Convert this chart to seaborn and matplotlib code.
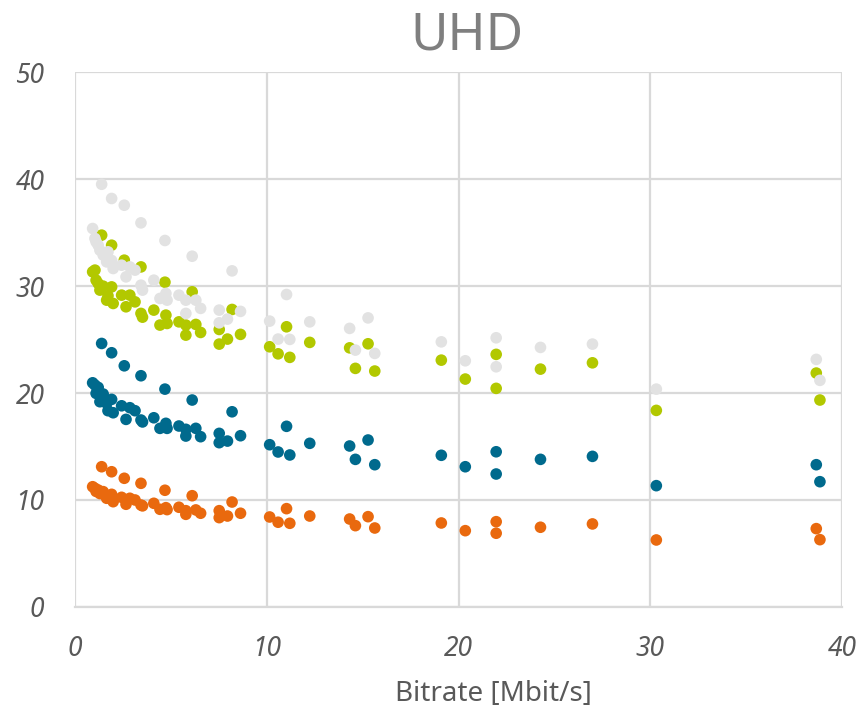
import numpy as np
import pandas as pd
import matplotlib
matplotlib.use("Agg")
import matplotlib.pyplot as plt
import seaborn as sns

# Bitrates of the encoded UHD versions (Mbit/s)
bitrate = [
    0.92, 1.04, 1.10, 1.21, 1.30, 1.47, 1.65, 1.72, 1.91, 1.99,
    2.43, 2.66, 2.86, 3.13, 3.44, 3.52, 4.11, 4.43, 4.74, 4.80,
    5.42, 5.78, 5.78, 6.30, 6.55, 7.52, 7.52, 7.95, 8.63, 10.15,
    1.39, 1.91, 2.57, 3.44, 4.69, 6.11, 8.19,
    10.59, 11.03, 11.20, 12.24, 14.32, 14.62, 15.28, 15.63, 19.10, 20.35,
    21.96, 21.96, 24.27, 26.98, 30.31, 38.65, 38.84,
]

# Quality values per series at each bitrate
series_orange = [
    11.24, 11.09, 10.80, 10.93, 10.60, 10.78, 10.16, 10.30, 10.53, 9.84,
    10.25, 9.60, 10.16, 10.00, 9.53, 9.45, 9.69, 9.13, 9.28, 9.10,
    9.32, 8.66, 9.00, 9.07, 8.76, 9.00, 8.35, 8.50, 8.76, 8.41,
    13.11, 12.64, 12.03, 11.56, 10.91, 10.40, 9.81,
    7.92, 9.19, 7.82, 8.50, 8.22, 7.60, 8.44, 7.38, 7.85, 7.13,
    7.97, 6.89, 7.45, 7.76, 6.26, 7.32, 6.29,
]
series_blue = [
    20.96, 20.75, 19.97, 20.53, 19.19, 19.91, 19.04, 18.35, 19.41, 18.16,
    18.81, 17.54, 18.63, 18.35, 17.48, 17.30, 17.69, 16.70, 17.17, 16.70,
    16.92, 15.98, 16.61, 16.70, 15.92, 16.23, 15.36, 15.51, 16.01, 15.17,
    24.64, 23.77, 22.55, 21.62, 20.37, 19.35, 18.25,
    14.49, 16.89, 14.21, 15.30, 15.05, 13.80, 15.61, 13.30, 14.18, 13.11,
    14.51, 12.43, 13.80, 14.08, 11.34, 13.30, 11.71,
]
series_green = [
    31.34, 31.50, 30.56, 30.25, 29.63, 30.00, 28.69, 29.10, 29.93, 28.38,
    29.16, 28.07, 29.16, 28.53, 27.45, 27.10, 27.76, 26.36, 27.29, 26.51,
    26.66, 25.42, 26.36, 26.42, 25.67, 25.95, 24.58, 25.05, 25.49, 24.33,
    34.77, 33.83, 32.43, 31.80, 30.37, 29.47, 27.82,
    23.67, 26.20, 23.34, 24.74, 24.23, 22.31, 24.61, 22.06, 23.08, 21.31,
    23.62, 20.44, 22.24, 22.83, 18.38, 21.87, 19.35,
]
series_gray = [
    35.39, 34.46, 34.14, 33.83, 33.36, 32.90, 32.27, 33.21, 32.40, 31.65,
    31.96, 30.87, 31.80, 31.50, 30.09, 29.63, 30.56, 28.85, 29.32, 28.69,
    29.16, 27.45, 28.69, 28.69, 27.92, 27.76, 26.57, 26.92, 27.64, 26.73,
    39.53, 38.20, 37.57, 35.92, 34.27, 32.80, 31.43,
    25.05, 29.22, 25.02, 26.66, 26.05, 24.02, 27.03, 23.71, 24.79, 23.02,
    25.17, 22.46, 24.27, 24.58, 20.37, 23.15, 21.19,
]

x_ticks = [0, 10, 20, 30, 40]
y_ticks = [0, 10, 20, 30, 40, 50]

palette = {
    "orange": "#E9690E",
    "blue": "#006A8D",
    "green": "#B2C800",
    "gray": "#E2E2E2",
}

# long table, drawn in row order: orange, blue, green, gray on top
frames = []
for name, vals in [("orange", series_orange), ("blue", series_blue),
                   ("green", series_green), ("gray", series_gray)]:
    frames.append(pd.DataFrame({"bitrate": bitrate, "value": vals, "series": name}))
df = pd.concat(frames, ignore_index=True)

sns.set_theme(style="white")
plt.rcParams["font.family"] = ["Noto Sans", "DejaVu Sans"]

fig = plt.figure(figsize=(8.62, 7.09), dpi=100)
ax = fig.add_axes([0.087, 0.144, 0.890, 0.754])

sns.scatterplot(data=df, x="bitrate", y="value", hue="series", palette=palette,
                s=70, linewidth=0, legend=False, ax=ax, zorder=3)

ax.set_xlim(0, 40)
ax.set_ylim(0, 50)
ax.set_xticks(x_ticks)
ax.set_yticks(y_ticks)
ax.grid(True, color="#D9D9D9", linewidth=1.6)
ax.set_axisbelow(True)
for side, sp in ax.spines.items():
    sp.set_visible(side == "bottom")
ax.spines["bottom"].set_color("#D9D9D9")
ax.spines["bottom"].set_linewidth(1.6)

tick_color = "#595959"
ax.tick_params(axis="both", length=0, labelsize=19, colors=tick_color)
ax.tick_params(axis="x", pad=20)
ax.tick_params(axis="y", pad=22)
for lab in ax.get_xticklabels() + ax.get_yticklabels():
    lab.set_fontstyle("italic")

ax.set_xlabel("Bitrate [Mbit/s]", fontsize=20, color=tick_color, va="center")
ax.xaxis.set_label_coords(0.545, -0.162)
ax.set_ylabel("")
fig.suptitle("UHD", x=0.542, y=0.985, fontsize=37, color="#7F7F7F", va="top")

fig.savefig("out.png", dpi=100)
